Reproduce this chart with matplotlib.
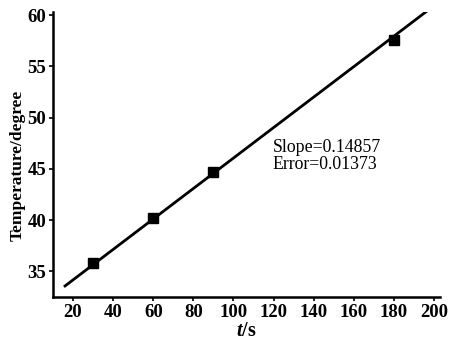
import matplotlib
matplotlib.use("Agg")
import numpy as np
import matplotlib.pyplot as plt

# measured points
t = [30, 60, 90, 180]
temp = [35.8, 40.2, 44.7, 57.6]

# fitted line
slope = 0.14857
intercept = 31.2
fit_t = [16, 197]
fit_temp = [intercept + slope * v for v in fit_t]

xticks = [20, 40, 60, 80, 100, 120, 140, 160, 180, 200]
yticks = [35, 40, 45, 50, 55, 60]

plt.rcParams['font.family'] = ['Liberation Serif', 'DejaVu Serif']
plt.rcParams['mathtext.fontset'] = 'custom'
plt.rcParams['mathtext.it'] = 'Liberation Serif:italic:bold'
plt.rcParams['mathtext.rm'] = 'Liberation Serif:bold'

fig = plt.figure(figsize=(4.55, 3.44), dpi=100)
ax = fig.add_axes([0.1165, 0.1366, 0.8505, 0.8284])

ax.plot(fit_t, fit_temp, color="black", lw=2.0, zorder=2)
ax.plot(t, temp, "s", color="black", ms=7, zorder=3)

ax.text(119.5, 47.9, "Slope=0.14857\nError=0.01373", fontsize=12.8,
        va="top", ha="left", linespacing=1.0)

ax.set_xlim(10, 203)
ax.set_ylim(32.5, 60.3)
ax.set_xticks(xticks)
ax.set_yticks(yticks)
ax.tick_params(axis="both", labelsize=13.5, width=1.2, length=3, direction="out", pad=2)
for lab in ax.get_xticklabels() + ax.get_yticklabels():
    lab.set_fontweight("bold")

ax.spines["top"].set_visible(False)
ax.spines["right"].set_visible(False)
ax.spines["left"].set_linewidth(1.8)
ax.spines["bottom"].set_linewidth(1.8)

ax.set_xlabel("$t$/s", fontsize=14.5, fontweight="bold", labelpad=0)
ax.set_ylabel("Temperature/degree", fontsize=12.5, fontweight="bold")
ax.yaxis.set_label_coords(-0.07, 0.463)

fig.savefig("out.png", dpi=100)
